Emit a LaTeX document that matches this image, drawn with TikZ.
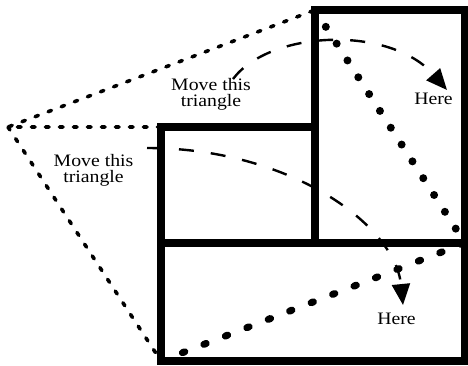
\documentclass[tikz,border=0pt]{standalone}
\usepackage{fontspec}
\setmainfont{Liberation Serif}
\usetikzlibrary{arrows.meta}
\newcommand{\widetext}[1]{\scalebox{1.13}[1]{#1}}
\begin{document}
\begin{tikzpicture}[x=1pt,y=-1pt,
  thickline/.style={line width=7.5pt, line join=miter},
  thindots/.style={line width=3.6pt, line cap=round, dash pattern=on 3.5pt off 10.5pt},
  bigdots/.style={line width=8pt, line cap=round, dash pattern=on 0pt off 20pt},
  bigdotsb/.style={line width=7pt, line cap=round, dash pattern=on 2.5pt off 20.5pt},
  dasharrow/.style={line width=2.4pt, dash pattern=on 15pt off 17pt, -{Triangle[length=21pt,width=18pt]}},
  lbl/.style={font=\fontsize{17.5}{16}\selectfont, align=center, inner sep=0pt}]
\useasboundingbox (0,0) rectangle (468,365);
% corner coordinates
\coordinate (apex) at (8,127);
\coordinate (TL) at (315,10);
\coordinate (TR) at (465,10);
\coordinate (MR) at (465,243);
\coordinate (MM) at (315,243);
\coordinate (ML) at (161,243);
\coordinate (MTL) at (161,127);
\coordinate (MTR) at (315,127);
\coordinate (BL) at (161,361);
\coordinate (BR) at (465,361);
% thin dotted triangles
\draw[thindots] (MTL) -- (apex) -- (TL);
\draw[thindots] (apex) -- (BL);
% big dotted diagonals
\draw[bigdots] (TL) -- (MR);
\draw[bigdotsb] (BL) -- (MR);
% thick rectangles
\draw[thickline] (ML) rectangle (BR);
\draw[thickline] (ML) -- (MTL) -- (MTR);
\draw[thickline] (MM) -- (TL) -- (TR) -- (MR);
% dashed arrows
\coordinate (s1) at (233,79);
\coordinate (e1) at (447,90);
\coordinate (s2) at (147,148);
\coordinate (e2) at (403,305);
\draw[dasharrow] (s1) .. controls (270,30) and (390,25) .. (e1);
\draw[dasharrow] (s2) .. controls (290,148) and (395,225) .. (e2);
% labels
\node[lbl] (l1) at (211,94) {\widetext{Move this}\\\widetext{triangle}};
\node[lbl] (l2) at (93.5,170) {\widetext{Move this}\\\widetext{triangle}};
\node[lbl] (h1) at (433.5,99) {\widetext{Here}};
\node[lbl] (h2) at (396.5,319) {\widetext{Here}};
\end{tikzpicture}
\end{document}
